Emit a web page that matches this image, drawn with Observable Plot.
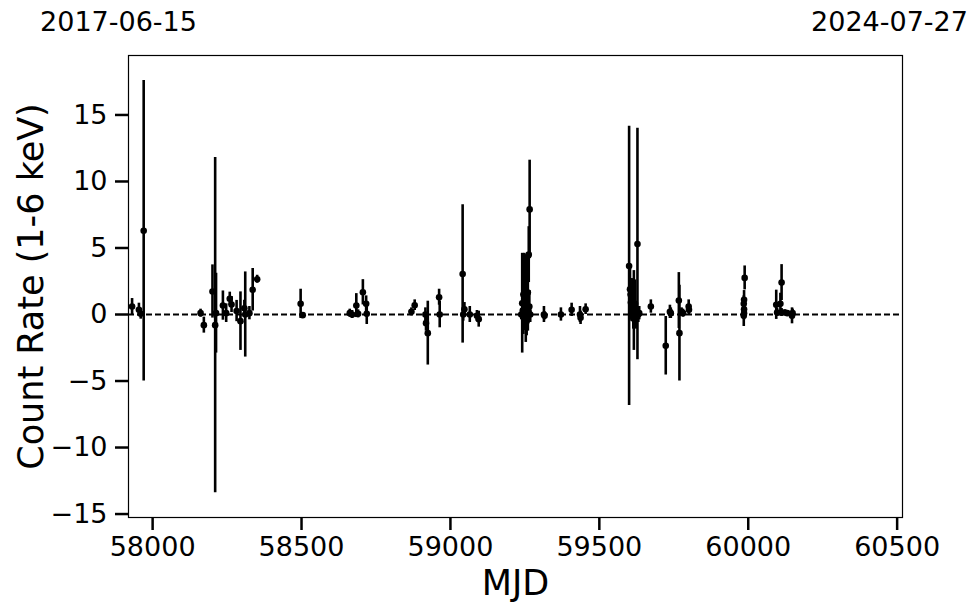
<!DOCTYPE html>
<html>
<head>
<meta charset="utf-8">
<script src="https://cdn.jsdelivr.net/npm/d3@7"></script>
<script src="https://cdn.jsdelivr.net/npm/@observablehq/plot@0.6"></script>
<style>
  html, body { margin: 0; padding: 0; background: #fff; }
  #chart { width: 980px; height: 613px; }
  svg { font-family: "DejaVu Sans", sans-serif; }
</style>
</head>
<body>
<div id="chart"></div>
<script>
// ---- data ----
const mjd = [
  57931, 57954, 57960, 57970,
  58161, 58172, 58201, 58210, 58213, 58236, 58247, 58259, 58265, 58282, 58295, 58308, 58311, 58325, 58336, 58351,
  58497, 58504,
  58662, 58670, 58684, 58690, 58706, 58717, 58719,
  58869, 58880, 58916, 58918, 58924, 58962, 58964, 59041, 59043, 59047, 59065, 59089, 59095,
  59238, 59241, 59243, 59245, 59247, 59248, 59250, 59252, 59253, 59255, 59256, 59258, 59260, 59262, 59263, 59265, 59266, 59268,
  59314, 59316, 59371, 59407, 59435, 59437, 59454,
  59600, 59603, 59605, 59606, 59608, 59609, 59611, 59612, 59614, 59616, 59618, 59620, 59622, 59625, 59628, 59631, 59634,
  59673, 59723, 59737, 59740, 59767, 59769, 59776, 59781, 59800, 59801,
  59988, 59986, 59985, 59986, 59986, 59985,
  60094, 60097, 60108, 60112, 60112, 60123, 60131, 60147, 60149
];
const rate = [
  0.6, 0.35, 0.05, 6.3,
  0.1, -0.8, 1.73, -0.8, 0.1, 0.67, 0.1, 1.18, 0.75, 0.26, -0.5, 0.47, 0.0, 0.1, 1.86, 2.65,
  0.8, -0.05,
  0.1, 0.0, 0.67, 0.05, 1.67, 0.8, 0.05,
  0.2, 0.7, 0.0, -0.65, -1.4, 1.3, 0.0, 3.05, 0.0, 0.4, 0.0, -0.1, -0.35,
  0.0, 0.85, 0.3, 1.5, -0.2, 2.0, 0.6, 0.1, 1.2, -0.3, 0.4, 0.0, 1.65, 0.2, 4.5, 0.6, 7.9, 0.0,
  0.0, -0.1, 0.0, 0.35, 0.0, -0.25, 0.4,
  3.65, 1.9, 1.5, 0.9, 0.5, 0.0, 1.2, 0.2, -0.3, 0.3, 0.0, 0.8, -0.2, 0.0, 5.3, 0.0, 0.1,
  0.6, -2.35, 0.2, 0.1, 1.05, -1.4, 0.2, 0.1, 0.6, 0.35,
  2.75, 1.1, 0.8, 0.4, 0.1, -0.1,
  0.73, 0.15, 0.8, 2.4, 0.15, 0.15, 0.1, -0.1, 0.1
];
const rateErr = [
  0.6, 0.5, 0.4, 11.3,
  0.3, 0.6, 2.0, 12.6, 3.0, 1.1, 0.7, 0.5, 0.6, 0.8, 2.2, 0.6, 3.2, 0.5, 1.6, 0.3,
  1.1, 0.2,
  0.3, 0.3, 0.9, 0.3, 0.95, 0.6, 0.8,
  0.3, 0.4, 0.5, 0.6, 2.4, 0.6, 1.0, 5.2, 0.5, 0.5, 0.6, 0.4, 0.6,
  0.4, 3.75, 1.2, 3.0, 0.6, 2.6, 1.8, 0.5, 3.3, 0.8, 2.0, 0.5, 2.9, 0.9, 2.1, 1.2, 3.7, 0.6,
  0.6, 0.3, 0.5, 0.5, 0.6, 0.5, 0.4,
  10.5, 1.6, 1.2, 1.0, 0.8, 0.5, 1.5, 0.7, 0.8, 3.0, 0.6, 1.8, 0.9, 0.5, 8.7, 0.6, 0.5,
  0.5, 2.2, 0.5, 0.4, 2.1, 3.6, 0.3, 0.3, 0.5, 0.4,
  0.9, 0.7, 0.6, 0.5, 0.5, 0.8,
  1.1, 0.3, 0.8, 1.35, 0.3, 0.2, 0.2, 0.6, 0.3
];
const xTicks = [58000, 58500, 59000, 59500, 60000, 60500];
const yTicks = [-15, -10, -5, 0, 5, 10, 15];
const xDomain = [57919, 60518];
const yDomain = [-15.26, 19.47];
const startDate = "2017-06-15";
const endDate = "2024-07-27";
const xLabel = "MJD";
const yLabel = "Count Rate (1-6 keV)";

const rows = mjd.map((m, i) => ({mjd: m, rate: rate[i], err: rateErr[i]}));
const fmt = d => d < 0 ? "\u2212" + Math.abs(d) : String(d);
const tickFont = 27;

const chart = Plot.plot({
  width: 980,
  height: 613,
  marginTop: 55,
  marginBottom: 96,
  marginLeft: 128,
  marginRight: 78,
  style: {fontFamily: "DejaVu Sans, sans-serif", color: "black", background: "white"},
  x: {domain: xDomain},
  y: {domain: yDomain},
  marks: [
    Plot.ruleY([0], {stroke: "black", strokeWidth: 1.8, strokeDasharray: "6,3"}),
    Plot.ruleX(rows, {x: "mjd", y1: d => d.rate - d.err, y2: d => d.rate + d.err, stroke: "black", strokeWidth: 2.6}),
    Plot.dot(rows, {x: "mjd", y: "rate", r: 3.3, fill: "black", stroke: "none"}),
    Plot.frame({stroke: "black", strokeWidth: 1.2}),
    Plot.axisX({ticks: xTicks, tickFormat: () => "", tickSize: 13, strokeWidth: 2.5, label: null}),
    Plot.axisY({ticks: yTicks, tickFormat: () => "", tickSize: 13, strokeWidth: 2.5, label: null}),
    Plot.text(xTicks, {x: d => d, text: d => String(d), frameAnchor: "bottom", dy: 30, lineAnchor: "middle", textAnchor: "middle", fontSize: tickFont, fill: "black"}),
    Plot.text(yTicks, {y: d => d, text: fmt, frameAnchor: "left", dx: -21, lineAnchor: "middle", textAnchor: "end", fontSize: tickFont, fill: "black"}),
    Plot.text([xLabel], {text: d => d, frameAnchor: "bottom", dy: 66, lineAnchor: "middle", fontSize: 35, fill: "black"}),
    Plot.text([yLabel], {text: d => d, frameAnchor: "left", dx: -97, rotate: -90, textAnchor: "middle", lineAnchor: "middle", fontSize: 35, fill: "black"}),
    Plot.text([startDate], {text: d => d, frameAnchor: "top-left", dx: -10, dy: -33, textAnchor: "middle", lineAnchor: "middle", fontSize: 27, fill: "black"}),
    Plot.text([endDate], {text: d => d, frameAnchor: "top-right", dx: -13, dy: -33, textAnchor: "middle", lineAnchor: "middle", fontSize: 27, fill: "black"})
  ]
});
document.getElementById("chart").appendChild(chart);
</script>
</body>
</html>
